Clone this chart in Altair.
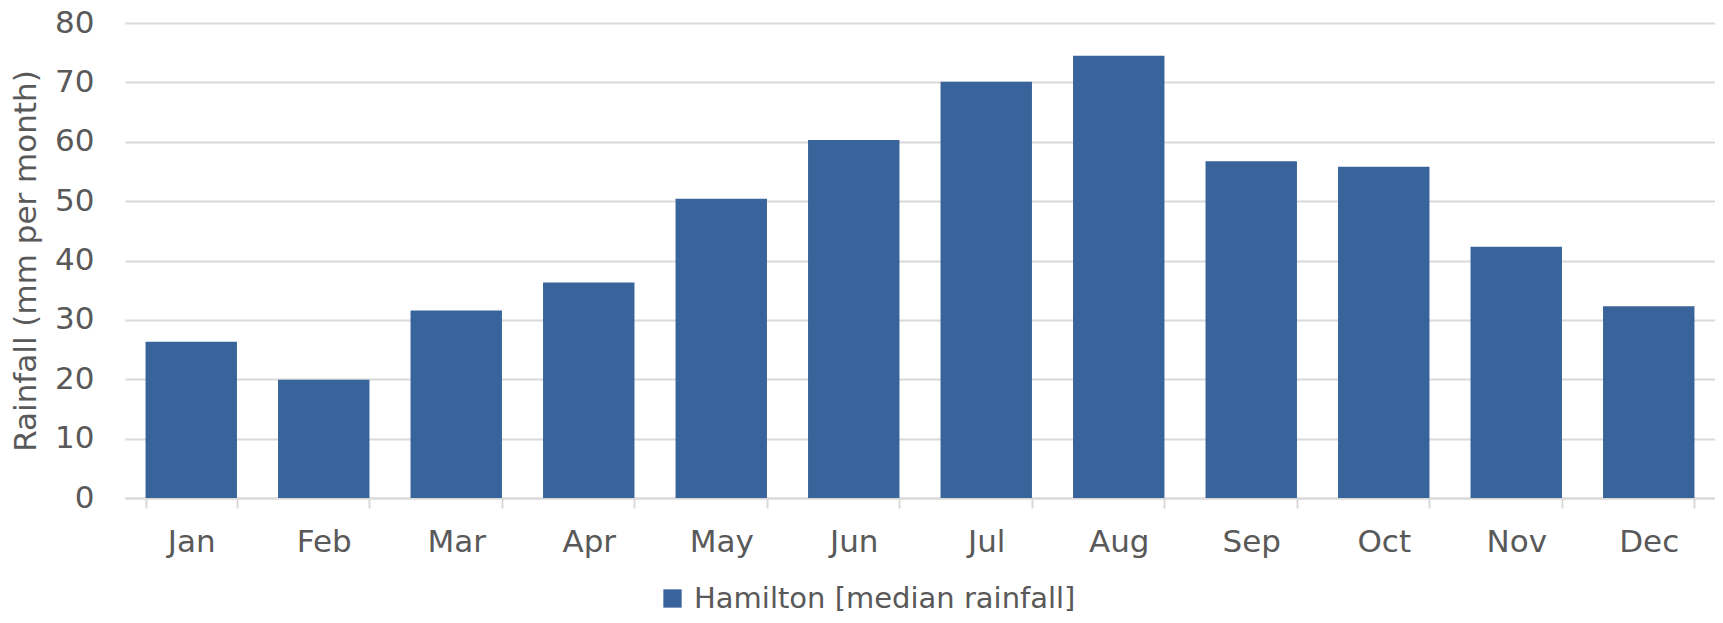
import altair as alt
import pandas as pd

months = ["Jan", "Feb", "Mar", "Apr", "May", "Jun", "Jul", "Aug", "Sep", "Oct", "Nov", "Dec"]
rainfall = [26.3, 19.9, 31.6, 36.3, 50.4, 60.3, 70.1, 74.5, 56.7, 55.8, 42.3, 32.3]
series_name = "Hamilton [median rainfall]"

df = pd.DataFrame({"Month": months, "Rainfall": rainfall, "Series": [series_name] * len(months)})

FONT = "DejaVu Sans"
TXT = "#595959"
GRID = "#d9d9d9"
BAR = "#39639b"

W, H = 1590, 475

chart = alt.Chart(df).mark_bar().encode(
    x=alt.X("Month:N", sort=months, title=None,
            scale=alt.Scale(paddingInner=0.31, paddingOuter=0.155),
            axis=alt.Axis(labelAngle=0, labelFontSize=31, labelColor=TXT, labelFont=FONT,
                          domainColor=GRID, domainWidth=2, tickColor=GRID,
                          tickWidth=2, tickSize=10, tickBand="extent", labelPadding=19,
                          grid=False)),
    y=alt.Y("Rainfall:Q", title="Rainfall (mm per month)",
            scale=alt.Scale(domain=[0, 80], nice=False),
            axis=alt.Axis(values=list(range(0, 81, 10)), labelFontSize=31, labelColor=TXT,
                          labelFont=FONT, titleFont=FONT, titleFontSize=31, titleColor=TXT,
                          titleFontWeight="normal", domain=False, ticks=False, labelPadding=31,
                          gridColor=GRID, gridWidth=2,
                          titleAngle=-90, titleX=-99, titleY=H / 2,
                          titleAlign="center", titleBaseline="middle")),
    fill=alt.Fill("Series:N", scale=alt.Scale(range=[BAR]),
                  legend=alt.Legend(title=None, orient="none", legendX=533, legendY=561,
                                    direction="horizontal", symbolType="square", symbolSize=335,
                                    labelFontSize=29, labelColor=TXT, labelFont=FONT,
                                    labelLimit=0, labelOffset=7, padding=0,
                                    symbolStrokeWidth=0)),
).properties(
    width=W, height=H,
    background="white",
    autosize=alt.AutoSizeParams(type="none"),
    padding={"left": 117, "top": 15, "right": 0, "bottom": 117},
).configure_view(stroke=None)

chart.save("out.html", embed_options={"renderer": "svg", "actions": False})
